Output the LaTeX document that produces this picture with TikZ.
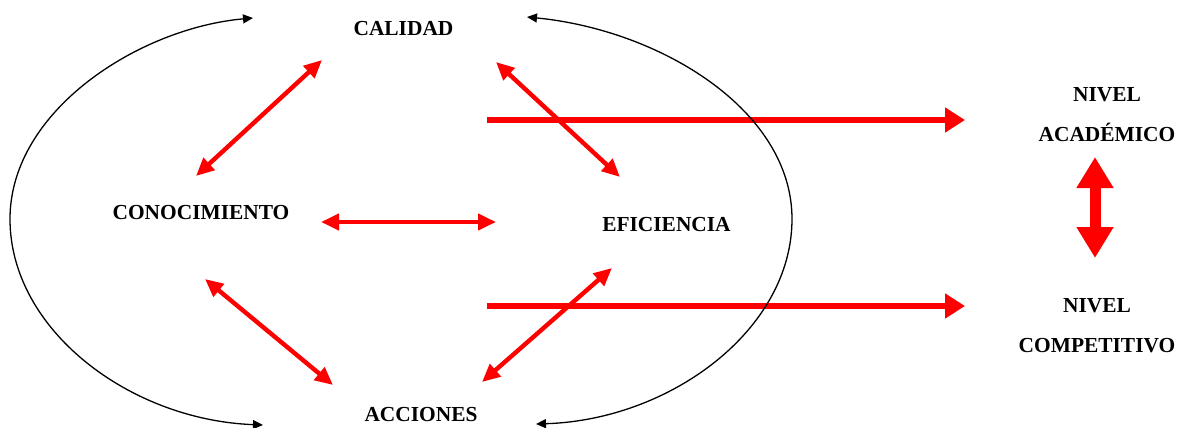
\documentclass[tikz,border=0pt]{standalone}
\usepackage{fontspec}
\setmainfont{Liberation Serif}
\usetikzlibrary{arrows.meta}
\tikzset{
  etiq/.style={font=\bfseries\fontsize{10.7}{20}\selectfont,inner sep=0pt,align=center},
  lien/.style={red,line width=2.2pt,{Triangle[length=9pt,width=8pt]}-{Triangle[length=9pt,width=8pt]}},
  sortie/.style={red,line width=3pt,-{Triangle[length=10pt,width=12pt]}},
  boucle/.style={black,line width=0.65pt,{Triangle[length=5pt,width=4.5pt]}-{Triangle[length=5pt,width=4.5pt]}}
}
\begin{document}
\begin{tikzpicture}[x=0.5pt,y=-0.5pt]
\pgfmathsetmacro{\xg}{10}
\pgfmathsetmacro{\xd}{792}
\pgfmathsetmacro{\ymil}{219}
\pgfmathsetmacro{\yhaut}{120}
\pgfmathsetmacro{\ybas}{306}
\pgfmathsetmacro{\xdep}{487}
\pgfmathsetmacro{\xarr}{965}
\useasboundingbox (0,0) rectangle (1180,428);
% les quatre notions
  \node[etiq,anchor=base] (cal) at (403.5,35) {CALIDAD};
  \node[etiq,anchor=base] (con) at (201,219) {CONOCIMIENTO};
  \node[etiq,anchor=base] (efi) at (666.5,231) {EFICIENCIA};
  \node[etiq,anchor=base] (acc) at (421,421) {ACCIONES};
  \node[etiq] (aca) at (1107,114.5) {NIVEL\\ACADÉMICO};
  \node[etiq] (com) at (1097,325.5) {NIVEL\\COMPETITIVO};
% bouts des fleches
  \coordinate (a1) at (322,60);  \coordinate (a2) at (196,176);
  \coordinate (b1) at (496,62);  \coordinate (b2) at (620,177);
  \coordinate (c1) at (321,222); \coordinate (c2) at (496,222);
  \coordinate (d1) at (205,279); \coordinate (d2) at (333,385);
  \coordinate (e1) at (612,268); \coordinate (e2) at (482,382);
  \draw[lien] (a1) -- (a2);
  \draw[lien] (b1) -- (b2);
  \draw[lien] (c1) -- (c2);
  \draw[lien] (d1) -- (d2);
  \draw[lien] (e1) -- (e2);
% vers les niveaux
  \coordinate (h1) at (\xdep,\yhaut); \coordinate (h2) at (\xarr,\yhaut);
  \coordinate (k1) at (\xdep,\ybas);  \coordinate (k2) at (\xarr,\ybas);
  \draw[sortie] (h1) -- (h2);
  \draw[sortie] (k1) -- (k2);
  \coordinate (v1) at (1095,157); \coordinate (v2) at (1095,258);
  \draw[red,line width=5.5pt,{Triangle[length=15.5pt,width=17.5pt]}-{Triangle[length=15.5pt,width=17.5pt]}] (v1) -- (v2);
% les deux boucles
  \coordinate (g1) at (253,18);  \coordinate (g2) at (263,425);
  \coordinate (r1) at (527,17);  \coordinate (r2) at (536,424);
  \draw[boucle] (g1) .. controls (140,28) and (\xg,110) .. (\xg,\ymil)
                     .. controls (\xg,330) and (130,420) .. (g2);
  \draw[boucle] (r1) .. controls (660,30) and (\xd,110) .. (\xd,\ymil)
                     .. controls (\xd,330) and (670,420) .. (r2);
\end{tikzpicture}
\end{document}
